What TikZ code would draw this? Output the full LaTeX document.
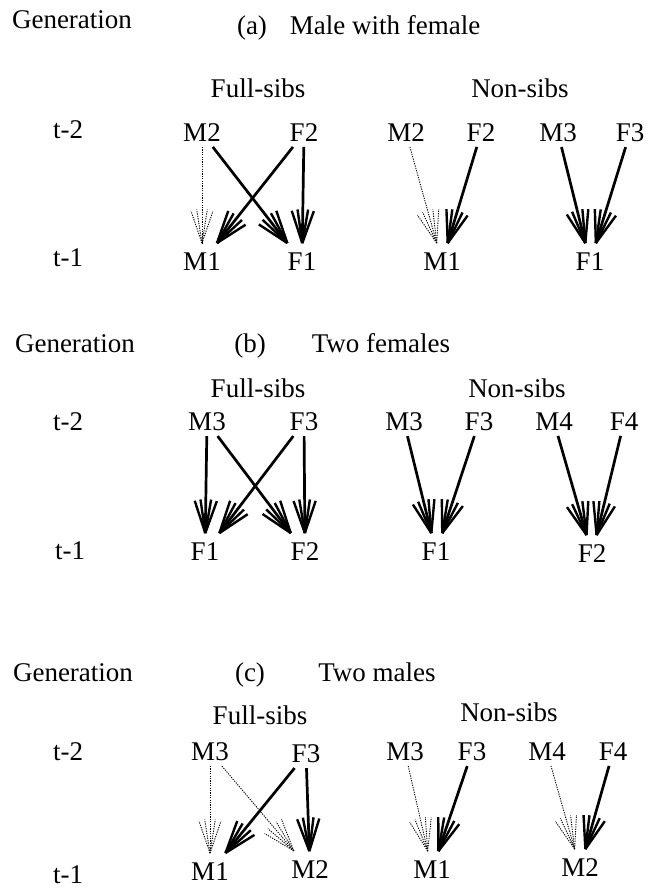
\documentclass[tikz,border=0pt]{standalone}
\usepackage{fontspec}
\setmainfont{Liberation Serif}
\usetikzlibrary{decorations.markings}
\newcommand{\lblsize}{\fontsize{27}{32}\selectfont}
\tikzset{
  lbl/.style={inner sep=2pt, font=\lblsize},
  head/.style={lbl, anchor=base},
  parent/.style={lbl, outer sep=3pt},
  child/.style={lbl, outer sep=8pt},
  fan/.style={decoration={markings, mark=at position 1 with {
      \foreach \ang in {-19,-9,9,19} {\draw[#1] (0,0) -- (180+\ang:34pt);}}},
    postaction={decorate}},
  strong/.style={line width=2.7pt, fan={line width=2.4pt}},
  weak/.style={line width=0.9pt, dash pattern=on 1.2pt off 1.2pt,
    fan={line width=0.9pt, dash pattern=on 1.2pt off 1.2pt}},
}

\begin{document}
\begin{tikzpicture}[x=1pt, y=-1pt]
  \useasboundingbox (0,0) rectangle (651,891);

  % ---------- (a) Male with female ----------
  \node[head] (gena) at (72,29) {Generation};
  \node[head] (taga) at (252,35) {(a)};
  \node[head] (tita) at (385,35) {Male with female};
  \node[lbl] (fsa) at (258,88) {Full-sibs};
  \node[lbl] (nsa) at (520,88) {Non-sibs};
  \node[lbl] (t2a) at (68,130) {t-2};
  \node[lbl] (t1a) at (68,258) {t-1};

  % full-sibs
  \node[parent] (aM2) at (202,133) {M2};
  \node[parent] (aF2) at (304,133) {F2};
  \node[child] (aM1) at (202,262) {M1};
  \node[child] (aF1) at (302,262) {F1};
  \draw[weak] (aM2) -- (aM1);
  \draw[strong] (aM2) -- (aF1);
  \draw[strong] (aF2) -- (aM1);
  \draw[strong] (aF2) -- (aF1);

  % non-sibs
  \node[parent] (anM2) at (406,133) {M2};
  \node[parent] (anF2) at (481,133) {F2};
  \node[parent] (anM3) at (558,133) {M3};
  \node[parent] (anF3) at (630,133) {F3};
  \node[child] (anM1) at (442,262) {M1};
  \node[child] (anF1) at (590,262) {F1};
  \draw[weak] (anM2) -- (anM1);
  \draw[strong] (anF2) -- (anM1);
  \draw[strong] (anM3) -- (anF1);
  \draw[strong] (anF3) -- (anF1);

  % ---------- (b) Two females ----------
  \node[head] (genb) at (75,352) {Generation};
  \node[head] (tagb) at (250,352) {(b)};
  \node[head] (titb) at (381,352) {Two females};
  \node[lbl] (fsb) at (258,388) {Full-sibs};
  \node[lbl] (nsb) at (517,388) {Non-sibs};
  \node[lbl] (t2b) at (68,422) {t-2};
  \node[lbl] (t1b) at (70,551) {t-1};

  % full-sibs
  \node[parent] (bM3) at (207,422) {M3};
  \node[parent] (bF3) at (304,422) {F3};
  \node[child] (bF1) at (205,552) {F1};
  \node[child] (bF2) at (305,552) {F2};
  \draw[strong] (bM3) -- (bF1);
  \draw[strong] (bM3) -- (bF2);
  \draw[strong] (bF3) -- (bF1);
  \draw[strong] (bF3) -- (bF2);

  % non-sibs
  \node[parent] (bnM3) at (404,422) {M3};
  \node[parent] (bnF3) at (479,422) {F3};
  \node[parent] (bnM4) at (554,422) {M4};
  \node[parent] (bnF4) at (624,422) {F4};
  \node[child] (bnF1) at (436,552) {F1};
  \node[child] (bnF2) at (592,554) {F2};
  \draw[strong] (bnM3) -- (bnF1);
  \draw[strong] (bnF3) -- (bnF1);
  \draw[strong] (bnM4) -- (bnF2);
  \draw[strong] (bnF4) -- (bnF2);

  % ---------- (c) Two males ----------
  \node[head] (genc) at (73,681) {Generation};
  \node[head] (tagc) at (250,681) {(c)};
  \node[head] (titc) at (377,681) {Two males};
  \node[lbl] (fsc) at (260,715) {Full-sibs};
  \node[lbl] (nsc) at (509,712) {Non-sibs};
  \node[lbl] (t2c) at (68,752) {t-2};
  \node[lbl] (t1c) at (68,875) {t-1};

  % full-sibs
  \node[parent] (cM3) at (210,752) {M3};
  \node[parent] (cF3) at (306,754) {F3};
  \node[child] (cM1) at (210,872) {M1};
  \node[child] (cM2) at (310,870) {M2};
  \draw[weak] (cM3) -- (cM1);
  \draw[weak] (cM3) -- (cM2);
  \draw[strong] (cF3) -- (cM1);
  \draw[strong] (cF3) -- (cM2);

  % non-sibs
  \node[parent] (cnM3) at (405,752) {M3};
  \node[parent] (cnF3) at (472,752) {F3};
  \node[parent] (cnM4) at (547,752) {M4};
  \node[parent] (cnF4) at (613,752) {F4};
  \node[child] (cnM1) at (432,870) {M1};
  \node[child] (cnM2) at (580,868) {M2};
  \draw[weak] (cnM3) -- (cnM1);
  \draw[strong] (cnF3) -- (cnM1);
  \draw[weak] (cnM4) -- (cnM2);
  \draw[strong] (cnF4) -- (cnM2);
\end{tikzpicture}
\end{document}
